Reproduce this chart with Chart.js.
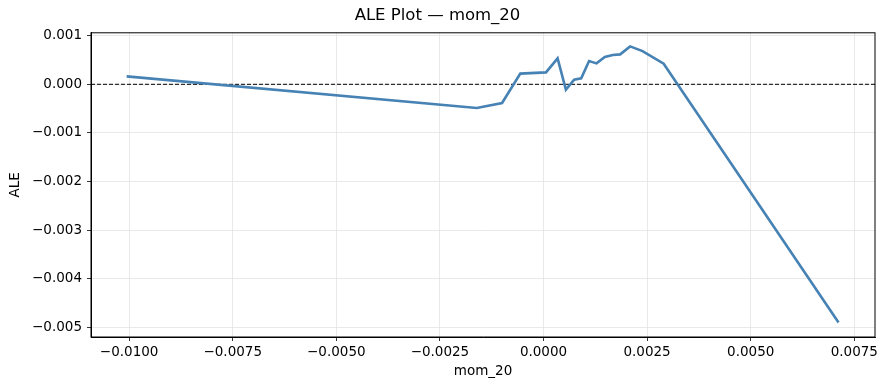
<!DOCTYPE html>
<html>
<head>
<meta charset="utf-8">
<script src="https://cdn.jsdelivr.net/npm/chart.js@4/dist/chart.umd.min.js"></script>
<style>
  html, body { margin: 0; padding: 0; background: #fff; }
  #wrap { width: 887px; height: 390px; }
</style>
</head>
<body>
<div id="wrap"><canvas id="canvas" width="887" height="390"></canvas></div>
<script>
// mom_20 grid values and accumulated local effects
const momValues = [-0.01006, -0.00161, -0.00100, -0.00056, 0.00006, 0.00034, 0.00054, 0.00074,
  0.00091, 0.00110, 0.00128, 0.00148, 0.00167, 0.00185, 0.00209, 0.00239, 0.00290, 0.00712]
const aleValues = [0.000164, -0.000487, -0.000384, 0.000220, 0.000246, 0.000534, -0.000109, 0.000097,
  0.000123, 0.000479, 0.000431, 0.000561, 0.000602, 0.000616, 0.000780, 0.000684, 0.000425, -0.004900]

const xRange = [-0.01092, 0.0080]
const yRange = [-0.0052, 0.00106]
const xStep = 0.0025
const yStep = 0.001

const font = "'DejaVu Sans', sans-serif"
const minus = v => v.replace("-", "\u2212")

function onStep(step) {
  return scale => {
    scale.ticks = scale.ticks.filter(t => Math.abs(t.value / step - Math.round(t.value / step)) < 1e-6)
  }
}

const framePlugin = {
  id: "frame",
  beforeDatasetsDraw(chart) {
    const {ctx, chartArea, scales} = chart
    const y0 = scales.y.getPixelForValue(0)
    ctx.save()
    ctx.strokeStyle = "#000"
    ctx.lineWidth = 1
    ctx.setLineDash([4, 2])
    ctx.beginPath()
    ctx.moveTo(chartArea.left, y0)
    ctx.lineTo(chartArea.right, y0)
    ctx.stroke()
    ctx.restore()
  },
  afterDraw(chart) {
    const {ctx, chartArea} = chart
    ctx.save()
    ctx.strokeStyle = "#000"
    ctx.lineWidth = 1
    ctx.strokeRect(chartArea.left, chartArea.top, chartArea.right - chartArea.left, chartArea.bottom - chartArea.top)
    ctx.restore()
  }
}

new Chart(document.getElementById("canvas"), {
  type: "line",
  data: {
    datasets: [{
      data: momValues.map((x, i) => ({x, y: aleValues[i]})),
      borderColor: "#4682b4",
      borderWidth: 2.6,
      pointRadius: 0,
      tension: 0,
      fill: false
    }]
  },
  options: {
    responsive: false,
    animation: false,
    layout: {padding: {left: 0, right: 12, top: 0, bottom: 0}},
    plugins: {
      legend: {display: false},
      tooltip: {enabled: false},
      title: {
        display: true,
        text: "ALE Plot \u2014 mom_20",
        color: "#000",
        font: {family: font, size: 16.5, weight: "normal"},
        padding: {top: 6, bottom: 7}
      }
    },
    scales: {
      x: {
        type: "linear",
        min: xRange[0],
        max: xRange[1],
        afterBuildTicks: onStep(xStep),
        afterFit: scale => { scale.height = 53 },
        ticks: {
          stepSize: xStep,
          includeBounds: false,
          color: "#000",
          font: {family: font, size: 13.5},
          padding: 3,
          maxRotation: 0,
          autoSkip: false,
          callback: v => minus(v.toFixed(4))
        },
        grid: {color: "#e3e3e3", lineWidth: 0.8, tickColor: "#000", tickLength: 4, tickWidth: 0.8},
        border: {color: "#000", width: 1},
        title: {
          display: true,
          text: "mom_20",
          color: "#000",
          font: {family: font, size: 13.5},
          padding: {top: 0, bottom: 10}
        }
      },
      y: {
        min: yRange[0],
        max: yRange[1],
        afterBuildTicks: onStep(yStep),
        afterFit: scale => { scale.width = 91 },
        ticks: {
          stepSize: yStep,
          includeBounds: false,
          color: "#000",
          font: {family: font, size: 13.5},
          padding: 5,
          callback: v => minus(v.toFixed(3))
        },
        grid: {color: "#e3e3e3", lineWidth: 0.8, tickColor: "#000", tickLength: 4, tickWidth: 0.8},
        border: {color: "#000", width: 1},
        title: {
          display: true,
          text: "ALE",
          color: "#000",
          font: {family: font, size: 13.5},
          padding: {top: 7, bottom: 0}
        }
      }
    }
  },
  plugins: [framePlugin]
})
</script>
</body>
</html>
